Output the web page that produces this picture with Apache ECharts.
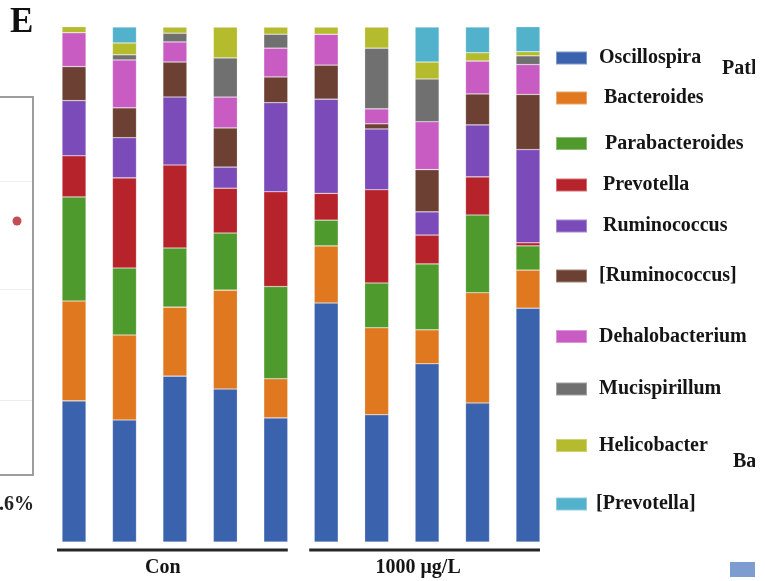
<!DOCTYPE html>
<html>
<head>
<meta charset="utf-8">
<script src="https://cdn.jsdelivr.net/npm/echarts@6/dist/echarts.min.js"></script>
<style>
  html, body { margin: 0; padding: 0; background: #ffffff; }
  #chart { width: 765px; height: 581px; }
</style>
</head>
<body>
<div id="chart"></div>
<script>
// Samples: five controls, five exposed at 1000 μg/L
const samples = ['C1', 'C2', 'C3', 'C4', 'C5', 'T1', 'T2', 'T3', 'T4', 'T5'];
const groups = ['Con', '1000 μg/L'];

// Genus names, stacked bottom to top
const genera = ['Oscillospira', 'Bacteroides', 'Parabacteroides', 'Prevotella', 'Ruminococcus',
  '[Ruminococcus]', 'Dehalobacterium', 'Mucispirillum', 'Helicobacter', '[Prevotella]'];

// Relative abundance (%) per sample
const oscillospira    = [27.4, 23.7, 32.2, 29.7, 24.1, 46.4, 24.7, 34.6, 27.0, 45.4];
const bacteroides     = [19.4, 16.5, 13.4, 19.2, 7.6, 11.1, 16.9, 6.6, 21.4, 7.4];
const parabacteroides = [20.2, 13.0, 11.5, 11.1, 17.9, 5.0, 8.7, 12.8, 15.1, 4.7];
const prevotella      = [8.0, 17.5, 16.1, 8.7, 18.4, 5.2, 18.1, 5.6, 7.4, 0.6];
const ruminococcus    = [10.7, 7.8, 13.2, 4.1, 17.3, 18.3, 11.8, 4.5, 10.1, 18.1];
const ruminococcusB   = [6.6, 5.8, 6.8, 7.6, 5.0, 6.6, 1.0, 8.2, 6.0, 10.7];
const dehalobacterium = [6.6, 9.3, 3.9, 6.0, 5.6, 6.0, 2.9, 9.3, 6.4, 5.8];
const mucispirillum   = [0, 1.0, 1.7, 7.6, 2.7, 0, 11.8, 8.3, 0, 1.7];
const helicobacter    = [1.2, 2.3, 1.2, 6.0, 1.4, 1.4, 4.1, 3.3, 1.6, 0.8];
const prevotellaB     = [0, 3.1, 0, 0, 0, 0, 0, 6.8, 5.0, 4.9];

const abundance = [oscillospira, bacteroides, parabacteroides, prevotella, ruminococcus,
  ruminococcusB, dehalobacterium, mucispirillum, helicobacter, prevotellaB];

const colors = ['#3b63ad', '#e07820', '#4f9a2c', '#b7232a', '#7b4bb9',
  '#6c4032', '#c95cc3', '#707070', '#b4bb2c', '#52b2cc'];

// Neighbouring panel fragment on the left: one point and its reference lines
const sideDotX = [51.5];
const sideDotY = [67.2];
const sideGridLines = [77.6, 49.1, 19.7];

const serif = '"Liberation Serif", "Times New Roman", "DejaVu Serif", serif';

// Legend rows are unevenly spaced: centre y and gap to text for each
const legendCenters = [58, 98, 143.5, 185, 226, 276, 336.5, 389, 445.5, 504];
const legendTextGap = [12, 17, 18, 16, 16, 12, 12, 12, 12, 9];

const chart = echarts.init(document.getElementById('chart'), null, { renderer: 'canvas' });

const barSeries = genera.map((g, i) => ({
  name: g,
  type: 'bar',
  stack: 'total',
  xAxisIndex: 0,
  yAxisIndex: 0,
  barWidth: 24,
  data: abundance[i],
  itemStyle: { color: colors[i], borderColor: 'rgba(255,255,255,0.35)', borderWidth: 0.6 },
  emphasis: { disabled: true },
  animation: false
}));

const legends = genera.map((g, i) => ({
  data: [g],
  left: 555,
  top: legendCenters[i] - 10,
  orient: 'vertical',
  padding: 0,
  icon: 'rect',
  itemWidth: 31,
  itemHeight: 13,
  selectedMode: false,
  textStyle: {
    fontFamily: serif,
    fontWeight: 'bold',
    fontSize: 20,
    color: '#151515',
    padding: [0, 0, 0, legendTextGap[i] - 5]
  }
}));

// Side panel frame (only top, right and bottom edges fall inside the page)
const sideTop = 97, sideBottom = 475, sideRight = 33;

chart.setOption({
  backgroundColor: '#ffffff',
  animation: false,
  color: colors,
  legend: legends,
  grid: [
    { left: 48.8, top: 27, width: 504.4, height: 515, containLabel: false },
    { left: 0, top: sideTop, width: sideRight, height: sideBottom - sideTop, show: false }
  ],
  xAxis: [
    { type: 'category', gridIndex: 0, data: samples, boundaryGap: true,
      axisLine: { show: false }, axisTick: { show: false }, axisLabel: { show: false } },
    { type: 'value', gridIndex: 1, min: 0, max: 100, show: false }
  ],
  yAxis: [
    { type: 'value', gridIndex: 0, min: 0, max: 100, show: false, splitLine: { show: false } },
    { type: 'value', gridIndex: 1, min: 0, max: 100, show: false, splitLine: { show: false } }
  ],
  series: barSeries.concat([{
    name: 'side',
    type: 'scatter',
    xAxisIndex: 1,
    yAxisIndex: 1,
    symbolSize: 9,
    data: sideDotX.map((x, i) => [x, sideDotY[i]]),
    itemStyle: { color: '#b3202b' },
    markLine: {
      silent: true,
      symbol: 'none',
      label: { show: false },
      lineStyle: { color: '#ededed', width: 1, type: 'solid' },
      data: sideGridLines.map(v => ({ yAxis: v }))
    }
  }])
});

// Group bars and labels under each treatment, placed from the category axis
const half = 12;
const px = i => chart.convertToPixel({ xAxisIndex: 0 }, i);
const groupSpans = [[0, 4], [5, 9]];
const groupLabelShift = [-12, -9];
const graphics = [];
groupSpans.forEach((span, gi) => {
  const x0 = px(span[0]) - half - 5;
  const x1 = px(span[1]) + half;
  graphics.push({
    type: 'line', z: 10,
    shape: { x1: x0, y1: 550, x2: x1, y2: 550 },
    style: { stroke: '#262626', lineWidth: 3 }
  });
  const mid = px(Math.floor((span[0] + span[1]) / 2));
  graphics.push({
    type: 'text', z: 10,
    x: mid + groupLabelShift[gi], y: 568,
    style: { text: groups[gi], font: 'bold 20px ' + serif, fill: '#151515',
      textAlign: 'center', textVerticalAlign: 'middle' }
  });
});

graphics.push(
  { type: 'polyline', z: 10,
    shape: { points: [[0, sideTop], [sideRight, sideTop], [sideRight, sideBottom], [0, sideBottom]] },
    style: { stroke: '#9d9d9d', lineWidth: 2, fill: null } },
  { type: 'text', z: 10, x: 10, y: 23,
    style: { text: 'E', font: 'bold 35px ' + serif, fill: '#111', textAlign: 'left', textVerticalAlign: 'middle' } },
  { type: 'text', z: 10, x: 34, y: 505,
    style: { text: '.6%', font: 'bold 20px ' + serif, fill: '#222', textAlign: 'right', textVerticalAlign: 'middle' } },
  { type: 'text', z: 10, x: 722, y: 69,
    style: { text: 'Path', font: 'bold 20px ' + serif, fill: '#151515', textAlign: 'left', textVerticalAlign: 'middle' } },
  { type: 'text', z: 10, x: 733, y: 462,
    style: { text: 'Ba', font: 'bold 20px ' + serif, fill: '#151515', textAlign: 'left', textVerticalAlign: 'middle' } },
  { type: 'rect', z: 10, shape: { x: 730, y: 562, width: 30, height: 15 },
    style: { fill: '#7d9dd0' } },
  // right margin strip
  { type: 'rect', z: 20, shape: { x: 755, y: 0, width: 10, height: 581 },
    style: { fill: '#ffffff' } }
);

chart.setOption({ graphic: graphics });
</script>
</body>
</html>
